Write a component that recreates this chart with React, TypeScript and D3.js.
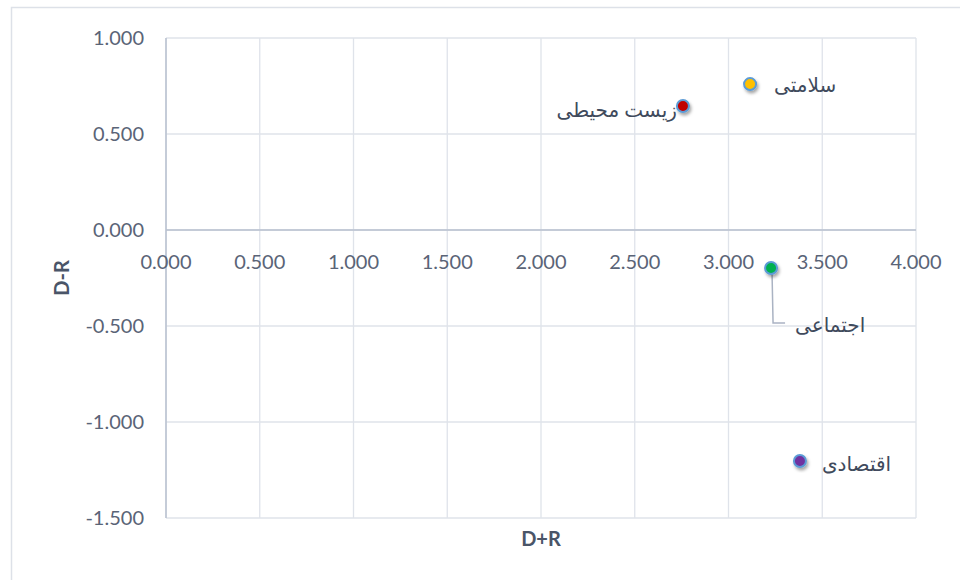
import { useEffect, useRef } from 'react';
import * as d3 from 'd3';

// Values
const labels = ['سلامتی', 'زیست محیطی', 'اجتماعی', 'اقتصادی'];
const dPlusR = [3.115, 2.757, 3.227, 3.381];
const dMinusR = [0.76, 0.646, -0.198, -1.203];
const colors = ['#FFC000', '#C00000', '#00B050', '#7030A0'];
const xTicks = [0, 0.5, 1, 1.5, 2, 2.5, 3, 3.5, 4];
const yTicks = [1, 0.5, 0, -0.5, -1, -1.5];

const W = 960;
const H = 580;

export default function App() {
    const ref = useRef<SVGSVGElement>(null);

    useEffect(() => {
        if (!ref.current) return;
        const svg = d3.select(ref.current);
        svg.selectAll('*').remove();

        const margin = { top: 38, right: 44, bottom: 62, left: 166 };
        const tickFont = 'Lato, "Open Sans", sans-serif';
        const tickColor = '#5a6477';

        const x = d3.scaleLinear().domain([0, 4]).range([margin.left, W - margin.right]);
        const y = d3.scaleLinear().domain([-1.5, 1]).range([H - margin.bottom, margin.top]);
        // plain hyphen as minus, like the original
        const fmt = d3.formatLocale({ decimal: '.', thousands: ',', grouping: [3], currency: ['', ''], minus: '-' }).format('.3f');

        // drop shadow for markers
        const defs = svg.append('defs');
        const f = defs.append('filter').attr('id', 'shadow')
            .attr('x', '-50%').attr('y', '-50%').attr('width', '200%').attr('height', '200%');
        f.append('feDropShadow')
            .attr('dx', 1.5).attr('dy', 2.5).attr('stdDeviation', 1.6)
            .attr('flood-color', '#000').attr('flood-opacity', 0.35);

        // chart frame (cropped at right/bottom)
        svg.append('rect')
            .attr('x', 11.5).attr('y', 7.5)
            .attr('width', W + 20).attr('height', H + 20)
            .attr('fill', '#fff').attr('stroke', '#dde1e8').attr('stroke-width', 1.5);

        // gridlines
        const grid = svg.append('g');
        grid.selectAll('line.vx').data(xTicks).join('line')
            .attr('x1', d => x(d)).attr('x2', d => x(d))
            .attr('y1', y(1)).attr('y2', y(-1.5))
            .attr('stroke', '#dfe3ea').attr('stroke-width', 1.3);
        grid.selectAll('line.hy').data(yTicks).join('line')
            .attr('x1', x(0)).attr('x2', x(4))
            .attr('y1', d => y(d)).attr('y2', d => y(d))
            .attr('stroke', '#dfe3ea').attr('stroke-width', 1.3);

        // axis lines
        svg.append('line')
            .attr('x1', x(0)).attr('x2', x(4)).attr('y1', y(0)).attr('y2', y(0))
            .attr('stroke', '#b8c0cf').attr('stroke-width', 1.5);
        svg.append('line')
            .attr('x1', x(0)).attr('x2', x(0)).attr('y1', y(1)).attr('y2', y(-1.5))
            .attr('stroke', '#b8c0cf').attr('stroke-width', 1.5);

        // tick labels
        svg.append('g').selectAll('text').data(xTicks).join('text')
            .attr('x', d => x(d)).attr('y', y(0) + 39)
            .attr('text-anchor', 'middle')
            .attr('font-family', tickFont).attr('font-size', 20)
            .attr('fill', tickColor)
            .text(d => fmt(d));
        svg.append('g').selectAll('text').data(yTicks).join('text')
            .attr('x', x(0) - 22).attr('y', d => y(d) + 7)
            .attr('text-anchor', 'end')
            .attr('font-family', tickFont).attr('font-size', 20)
            .attr('fill', tickColor)
            .text(d => fmt(d));

        // axis titles
        svg.append('text')
            .attr('x', (x(0) + x(4)) / 2).attr('y', H - 34)
            .attr('text-anchor', 'middle')
            .attr('font-family', tickFont).attr('font-size', 20).attr('font-weight', 'bold')
            .attr('fill', '#4a5568')
            .text('D+R');
        svg.append('text')
            .attr('transform', `translate(${69},${(y(1) + y(-1.5)) / 2}) rotate(-90)`)
            .attr('text-anchor', 'middle')
            .attr('font-family', tickFont).attr('font-size', 20).attr('font-weight', 'bold')
            .attr('fill', '#4a5568')
            .text('D-R');

        // leader line for the moved label
        const gi = 2;
        svg.append('path')
            .attr('d', `M${x(dPlusR[gi]) + 1},${y(dMinusR[gi]) + 6}L${x(dPlusR[gi]) + 2},${y(dMinusR[gi]) + 55}L${x(dPlusR[gi]) + 14},${y(dMinusR[gi]) + 55}`)
            .attr('fill', 'none').attr('stroke', '#aab3c3').attr('stroke-width', 1.5);

        // markers
        svg.append('g').selectAll('circle').data(labels).join('circle')
            .attr('cx', (_, i) => x(dPlusR[i]))
            .attr('cy', (_, i) => y(dMinusR[i]))
            .attr('r', 6)
            .attr('fill', (_, i) => colors[i])
            .attr('stroke', '#5b9bd5').attr('stroke-width', 2)
            .attr('filter', 'url(#shadow)');

        // data labels
        const offsets = [
            { dx: 24, dy: 8, anchor: 'start' },
            { dx: -6, dy: 11, anchor: 'end' },
            { dx: 24, dy: 64, anchor: 'start' },
            { dx: 22, dy: 10, anchor: 'start' },
        ];
        svg.append('g').selectAll('text').data(labels).join('text')
            .attr('x', (_, i) => x(dPlusR[i]) + offsets[i].dx)
            .attr('y', (_, i) => y(dMinusR[i]) + offsets[i].dy)
            .attr('text-anchor', (_, i) => offsets[i].anchor)
            .attr('font-family', '"Times New Roman", "DejaVu Sans", serif')
            .attr('font-size', 20)
            .attr('fill', '#404a5c')
            .text(d => d);
    }, []);

    return (
        <svg
            ref={ref}
            width={W}
            height={H}
            style={{ position: 'absolute', left: 0, top: 0, background: '#fff' }}
        />
    );
}
